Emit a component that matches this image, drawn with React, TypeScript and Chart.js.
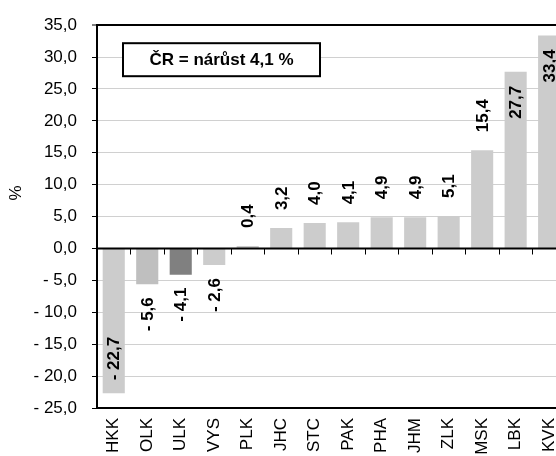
import React, { useEffect, useRef } from 'react';
import { Chart, registerables } from 'chart.js';

Chart.register(...registerables);

const categories: string[] = ['HKK', 'OLK', 'ULK', 'VYS', 'PLK', 'JHC', 'STC', 'PAK', 'PHA', 'JHM', 'ZLK', 'MSK', 'LBK', 'KVK'];
const values: number[] = [-22.7, -5.6, -4.1, -2.6, 0.4, 3.2, 4.0, 4.1, 4.9, 4.9, 5.1, 15.4, 27.7, 33.4];
const barColors: string[] = ['#cccccc', '#bfbfbf', '#808080', '#cccccc', '#cccccc', '#cccccc', '#cccccc', '#cccccc', '#cccccc', '#cccccc', '#cccccc', '#cccccc', '#cccccc', '#cccccc'];
const yMin = -25;
const yMax = 35;
const yStep = 5;
const yTitle = '%';
const noteText = 'ČR = nárůst 4,1 %';

const FONT_FAMILY = "'Liberation Sans', Arial, sans-serif";

const fmt = (v: number): string => (v < 0 ? '- ' : '') + Math.abs(v).toFixed(1).replace('.', ',');

const overlayPlugin = {
  id: 'overlay',
  afterDatasetsDraw(chart: any) {
    const { ctx, chartArea, scales } = chart;
    const xS = scales.x;
    const yS = scales.y;
    const y0 = yS.getPixelForValue(0);
    ctx.save();
    // zero axis line
    ctx.strokeStyle = '#000';
    ctx.lineWidth = 2;
    ctx.beginPath();
    ctx.moveTo(chartArea.left, y0);
    ctx.lineTo(chartArea.right, y0);
    ctx.stroke();
    // tick marks between categories
    const step = xS.getPixelForValue(1) - xS.getPixelForValue(0);
    ctx.lineWidth = 1;
    for (let i = 1; i <= categories.length; i++) {
      const x = Math.round(xS.getPixelForValue(i) - step / 2) + 0.5;
      ctx.beginPath();
      ctx.moveTo(x, y0);
      ctx.lineTo(x, y0 + 6);
      ctx.stroke();
    }
    // data labels
    const meta = chart.getDatasetMeta(0);
    ctx.fillStyle = '#000';
    ctx.font = `bold 17px ${FONT_FAMILY}`;
    ctx.textBaseline = 'middle';
    meta.data.forEach((bar: any, i: number) => {
      const v = values[i];
      const inside = Math.abs(v) > 20;
      let anchor: number;
      let align: CanvasTextAlign;
      if (v >= 0) {
        if (inside) { anchor = bar.y + 14; align = 'right'; }
        else { anchor = bar.y - 18; align = 'left'; }
      } else {
        if (inside) { anchor = bar.y - 13; align = 'left'; }
        else { anchor = bar.y + 13; align = 'right'; }
      }
      ctx.save();
      ctx.translate(bar.x + 1, anchor);
      ctx.rotate(-Math.PI / 2);
      ctx.textAlign = align;
      ctx.fillText(fmt(v), 0, 0);
      ctx.restore();
    });
    ctx.restore();
  },
  afterDraw(chart: any) {
    const { ctx, chartArea } = chart;
    const bx = chartArea.left + 26;
    const by = chartArea.top + 18;
    const bw = 197;
    const bh = 33;
    ctx.save();
    ctx.fillStyle = '#fff';
    ctx.fillRect(bx, by, bw, bh);
    ctx.strokeStyle = '#000';
    ctx.lineWidth = 2;
    ctx.strokeRect(bx, by, bw, bh);
    ctx.fillStyle = '#000';
    ctx.font = `bold 17px ${FONT_FAMILY}`;
    ctx.textAlign = 'center';
    ctx.textBaseline = 'middle';
    ctx.fillText(noteText, bx + bw / 2, by + bh / 2 + 1);
    ctx.restore();
  },
};

export default function App() {
  const ref = useRef<HTMLCanvasElement>(null);

  useEffect(() => {
    if (!ref.current) return;
    const font = { family: FONT_FAMILY, size: 17 };
    const chart = new Chart(ref.current, {
      type: 'bar',
      data: {
        labels: categories,
        datasets: [
          {
            data: values,
            backgroundColor: barColors,
            borderWidth: 0,
            barPercentage: 0.66,
            categoryPercentage: 1,
          },
        ],
      },
      options: {
        responsive: false,
        animation: false,
        devicePixelRatio: 1,
        layout: { padding: { top: 16, right: 13, left: 0, bottom: 0 } },
        plugins: { legend: { display: false }, tooltip: { enabled: false } },
        scales: {
          x: {
            grid: { display: true, drawOnChartArea: false, drawTicks: false },
            border: { display: true, color: '#000', width: 2 },
            ticks: { minRotation: 90, maxRotation: 90, autoSkip: false, padding: 10, color: '#000', font },
            afterFit: (s: any) => { s.height = 48; },
          },
          y: {
            min: yMin,
            max: yMax,
            ticks: {
              stepSize: yStep,
              callback: (v: any) => fmt(Number(v)),
              padding: 15,
              color: '#000',
              font,
            },
            grid: {
              color: (c: any) => (c.tick && (c.tick.value === yMax || c.tick.value === 0) ? '#000' : '#d0d0d0'),
              lineWidth: (c: any) => (c.tick && c.tick.value === yMax ? 2 : 1),
              tickColor: '#000',
              tickLength: 5,
              tickWidth: 1,
            },
            border: { display: true, color: '#000', width: 2 },
            title: {
              display: true,
              text: '\u00A0'.repeat(10) + yTitle,
              color: '#000',
              font,
              padding: { top: 6, bottom: 0 },
            },
            afterFit: (s: any) => { s.width = 97; },
          },
        },
      },
      plugins: [overlayPlugin],
    } as any);
    return () => chart.destroy();
  }, []);

  return (
    <div style={{ position: 'fixed', left: 0, top: 0, width: 556, height: 456, overflow: 'hidden', background: '#fff' }}>
      <canvas ref={ref} width={580} height={456} style={{ display: 'block', width: 580, height: 456 }} />
    </div>
  );
}
